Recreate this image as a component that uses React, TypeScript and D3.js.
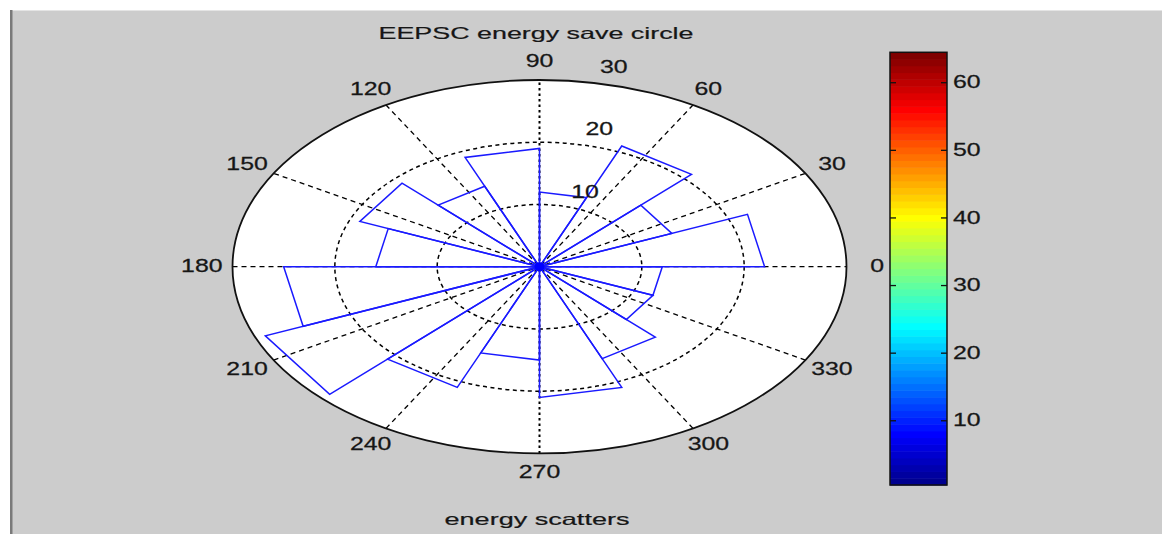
import React from "react";
import * as d3 from "d3";

// ---- data ----
const binCounts = [22, 14, 21, 12, 19, 14, 19, 16, 25, 29, 21, 15, 21, 16, 12, 12];
const ringValues = [10, 20, 30];
const spokeAngles = [0, 30, 60, 90, 120, 150];
const angleLabels = [0, 30, 60, 90, 120, 150, 180, 210, 240, 270, 300, 330];
const colorbarTicks = [10, 20, 30, 40, 50, 60];
const titleText = "EEPSC energy save circle";
const xLabelText = "energy scatters";

const W = 1162;
const H = 534;
const cx = 539.5;
const cy = 266.7;
const RX = 307;
const RY = 186.7;
const rMax = 30;

const xS = d3.scaleLinear().domain([-rMax, rMax]).range([cx - RX, cx + RX]);
const yS = d3.scaleLinear().domain([-rMax, rMax]).range([cy + RY, cy - RY]);
const rad = (deg: number) => (deg * Math.PI) / 180;
const px = (r: number, deg: number) => xS(r * Math.cos(rad(deg)));
const py = (r: number, deg: number) => yS(r * Math.sin(rad(deg)));

// jet colormap like MATLAB jet(64)
function jet(m: number): string[] {
  const n = Math.ceil(m / 4);
  const u: number[] = [];
  for (let i = 1; i <= n; i++) u.push(i / n);
  for (let i = 0; i < n - 1; i++) u.push(1);
  for (let i = n; i >= 1; i--) u.push(i / n);
  const g0 = Math.ceil(n / 2) - (m % 4 === 1 ? 1 : 0);
  const J = Array.from({ length: m }, () => [0, 0, 0]);
  u.forEach((val, k) => {
    const g = g0 + k + 1;
    const r = g + n;
    const b = g - n;
    if (r >= 1 && r <= m) J[r - 1][0] = val;
    if (g >= 1 && g <= m) J[g - 1][1] = val;
    if (b >= 1 && b <= m) J[b - 1][2] = val;
  });
  return J.map((c) => d3.rgb(c[0] * 255, c[1] * 255, c[2] * 255).formatHex());
}
const jetColors = jet(64);

const cbX0 = 890;
const cbX1 = 947;
const cbScale = d3.scaleLinear().domain([0.5, 64.5]).range([485, 52.3]);

const font = "'Liberation Sans', Arial, sans-serif";
const textColor = "#161616";

function Label({ x, y, text, anchor = "middle", sx = 1.42, size = 17.5 }: any) {
  return (
    <text
      transform={`translate(${x},${y}) scale(${sx},1)`}
      textAnchor={anchor}
      dominantBaseline="central"
      fontFamily={font}
      fontSize={size}
      fill={textColor}
      stroke={textColor}
      strokeWidth={0.25}
    >
      {text}
    </text>
  );
}

export default function App() {
  const binW = 360 / binCounts.length;
  const petals = binCounts.map((v, i) => {
    const a1 = i * binW;
    const a2 = (i + 1) * binW;
    const p = d3.path();
    p.moveTo(xS(0), yS(0));
    p.lineTo(px(v, a1), py(v, a1));
    p.lineTo(px(v, a2), py(v, a2));
    p.closePath();
    return p.toString();
  });

  return (
    <svg
      width={W}
      height={H}
      style={{ position: "absolute", left: 0, top: 0 }}
      xmlns="http://www.w3.org/2000/svg"
    >
      <rect x={0} y={0} width={W} height={H} fill="#ffffff" />
      <rect x={10} y={10} width={W - 10} height={H - 10} fill="#cccccc" />
      <line x1={10} y1={10.5} x2={W} y2={10.5} stroke="#e4e4e4" strokeWidth={1} />
      <rect x={10} y={10} width={2.5} height={H - 10} fill="#7a7a7a" />

      {/* polar background */}
      <ellipse cx={cx} cy={cy} rx={RX} ry={RY} fill="#ffffff" stroke="none" />

      {/* rings */}
      {ringValues.slice(0, -1).map((r) => (
        <ellipse
          key={r}
          cx={xS(0)}
          cy={yS(0)}
          rx={xS(r) - xS(0)}
          ry={yS(0) - yS(r)}
          fill="none"
          stroke="#000"
          strokeWidth={1.5}
          strokeDasharray="4 3.5"
        />
      ))}
      {/* spokes */}
      {spokeAngles.map((a) => (
        <line
          key={a}
          x1={px(-rMax, a)}
          y1={py(-rMax, a)}
          x2={px(rMax, a)}
          y2={py(rMax, a)}
          stroke="#000"
          strokeWidth={a === 90 ? 2 : 1.3}
          strokeDasharray={a === 90 ? "2.5 3" : "5 4"}
        />
      ))}
      {/* outer ellipse */}
      <ellipse
        cx={xS(0)}
        cy={yS(0)}
        rx={xS(rMax) - xS(0)}
        ry={yS(0) - yS(rMax)}
        fill="none"
        stroke="#111"
        strokeWidth={1.8}
      />

      {/* petals */}
      {petals.map((d, i) => (
        <path key={i} d={d} fill="none" stroke="#1a1aff" strokeWidth={1.5} strokeLinejoin="miter" />
      ))}
      <ellipse cx={xS(0)} cy={yS(0)} rx={5} ry={4.5} fill="#0000ff" />

      {/* radial labels */}
      {ringValues.map((r) => (
        <Label key={r} x={xS(0.14 * r + 1.7)} y={yS(r + 2.0)} text={String(r)} anchor="start" />
      ))}
      {/* angle labels */}
      {angleLabels.map((a) => (
        <Label key={a} x={px(rMax * 1.1, a)} y={py(rMax * 1.1, a)} text={String(a)} />
      ))}

      {/* title and xlabel */}
      <text
        x={536}
        y={33}
        textAnchor="middle"
        dominantBaseline="central"
        fontFamily={font}
        fontSize={16.5}
        fill={textColor}
        stroke={textColor}
        strokeWidth={0.2}
        textLength={315}
        lengthAdjust="spacingAndGlyphs"
      >
        {titleText}
      </text>
      <text
        x={537}
        y={519}
        textAnchor="middle"
        dominantBaseline="central"
        fontFamily={font}
        fontSize={16.5}
        fill={textColor}
        stroke={textColor}
        strokeWidth={0.2}
        textLength={185}
        lengthAdjust="spacingAndGlyphs"
      >
        {xLabelText}
      </text>

      {/* colorbar */}
      {jetColors.map((c, i) => (
        <rect
          key={i}
          x={cbX0}
          y={cbScale(i + 1.5)}
          width={cbX1 - cbX0}
          height={cbScale(i + 0.5) - cbScale(i + 1.5) + 0.5}
          fill={c}
        />
      ))}
      <rect
        x={cbX0}
        y={cbScale(64.5)}
        width={cbX1 - cbX0}
        height={cbScale(0.5) - cbScale(64.5)}
        fill="none"
        stroke="#111"
        strokeWidth={1.5}
      />
      {colorbarTicks.map((t) => (
        <g key={t}>
          <line x1={cbX0} x2={cbX0 + 6} y1={cbScale(t)} y2={cbScale(t)} stroke="#111" strokeWidth={1.3} />
          <line x1={cbX1 - 6} x2={cbX1} y1={cbScale(t)} y2={cbScale(t)} stroke="#111" strokeWidth={1.3} />
          <Label x={cbX1 + 6} y={cbScale(t)} text={String(t)} anchor="start" />
        </g>
      ))}
    </svg>
  );
}
